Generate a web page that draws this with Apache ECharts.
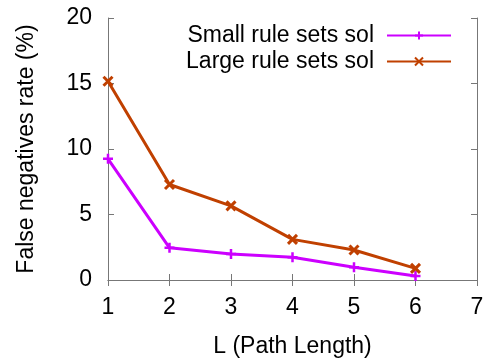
<!DOCTYPE html>
<html>
<head>
<meta charset="utf-8">
<script src="https://cdn.jsdelivr.net/npm/echarts@6/dist/echarts.min.js"></script>
<style>
  html, body { margin: 0; padding: 0; background: #fff; }
  #chart { width: 491px; height: 358px; }
</style>
</head>
<body>
<div id="chart"></div>
<script>
const pathLengths = [1, 2, 3, 4, 5, 6];
const smallRuleSets = [9.25, 2.46, 1.98, 1.73, 0.97, 0.3];
const largeRuleSets = [15.17, 7.29, 5.66, 3.1, 2.29, 0.89];
const seriesNames = ["Small rule sets sol", "Large rule sets sol"];

const FONT = "Liberation Sans, Arial, sans-serif";
const AXIS = "#777";
const PLUS = "path://M5,0 L5,10 M0,5 L10,5";
const CROSS = "path://M0,0 L10,10 M10,0 L0,10";

const chart = echarts.init(document.getElementById("chart"));

const tickStyle = { show: true, inside: true, length: 6, lineStyle: { color: AXIS } };
const lineAxis = { show: true, lineStyle: { color: AXIS, width: 1 } };

chart.setOption({
  animation: false,
  textStyle: { fontFamily: FONT },
  grid: { left: 108, right: 14, top: 18, bottom: 78, containLabel: false, outerBoundsMode: "none" },
  legend: {
    orient: "vertical",
    align: "right",
    right: 34,
    top: 19,
    itemWidth: 64,
    itemHeight: 10,
    itemGap: 3,
    textStyle: { fontSize: 23, color: "#000", fontFamily: FONT, padding: [0, 8, 0, 0] },
    data: seriesNames,
  },
  xAxis: [
    {
      type: "value", min: 1, max: 7, interval: 1,
      name: "L (Path Length)", nameLocation: "middle", nameGap: 55,
      nameTextStyle: { fontSize: 23, color: "#000" },
      axisLine: lineAxis, axisTick: tickStyle,
      axisLabel: { fontSize: 23, color: "#000", margin: 16, showMinLabel: true, showMaxLabel: true },
      splitLine: { show: false },
    },
    {
      type: "value", min: 1, max: 7, interval: 1, position: "top",
      axisLine: lineAxis, axisTick: tickStyle, axisLabel: { show: false },
      splitLine: { show: false },
    },
  ],
  yAxis: [
    {
      type: "value", min: 0, max: 20, interval: 5,
      name: "False negatives rate (%)", nameLocation: "middle", nameGap: 70,
      nameTextStyle: { fontSize: 23, color: "#000" },
      axisLine: lineAxis, axisTick: tickStyle,
      axisLabel: { fontSize: 23, color: "#000", margin: 16 },
      splitLine: { show: false },
    },
    {
      type: "value", min: 0, max: 20, interval: 5, position: "right",
      axisLine: lineAxis, axisTick: tickStyle, axisLabel: { show: false },
      splitLine: { show: false },
    },
  ],
  series: [
    {
      name: seriesNames[0],
      type: "line",
      data: pathLengths.map((x, i) => [x, smallRuleSets[i]]),
      symbol: PLUS, symbolSize: 10,
      lineStyle: { color: "#cc00ff", width: 3 },
      itemStyle: { color: "#cc00ff", borderColor: "#cc00ff", borderWidth: 2.5 },
    },
    {
      name: seriesNames[1],
      type: "line",
      data: pathLengths.map((x, i) => [x, largeRuleSets[i]]),
      symbol: CROSS, symbolSize: 9,
      lineStyle: { color: "#c04000", width: 3 },
      itemStyle: { color: "#c04000", borderColor: "#c04000", borderWidth: 3 },
    },
  ],
});
</script>
</body>
</html>
